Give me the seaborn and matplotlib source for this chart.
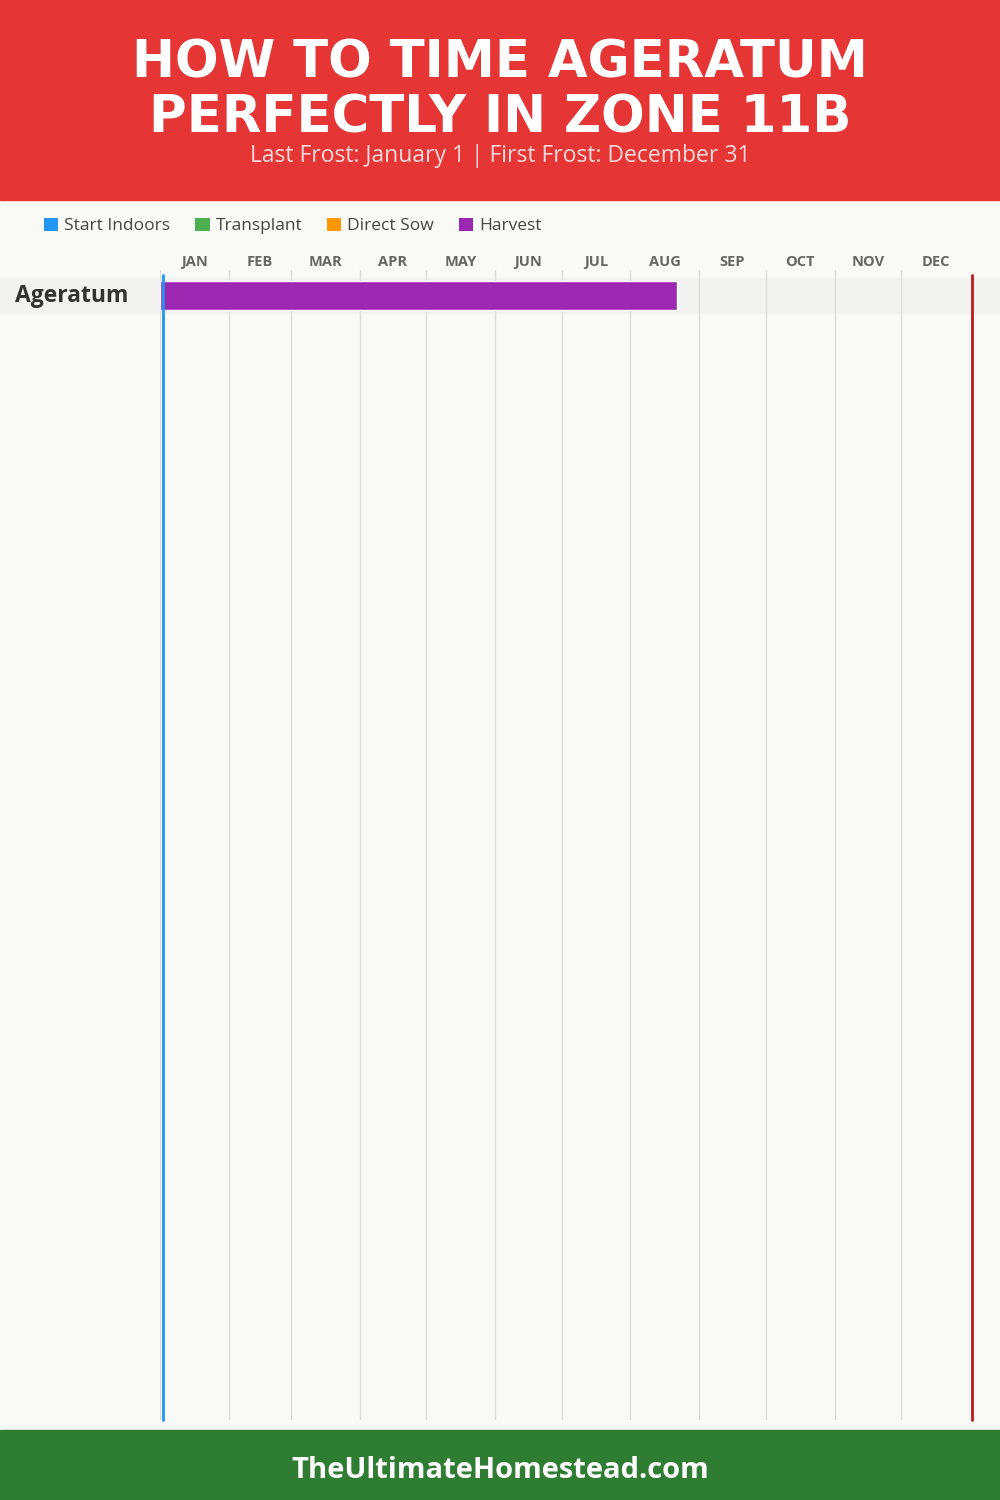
import matplotlib
matplotlib.use("Agg")
import matplotlib.pyplot as plt
import seaborn as sns
from matplotlib.patches import Patch, Rectangle

# data
crops = ["Ageratum"]
harvest_start = [1]      # day of year
harvest_end = [233]      # ~Aug 21
last_frost = 1           # January 1
first_frost = 365        # December 31
months = ["JAN", "FEB", "MAR", "APR", "MAY", "JUN",
          "JUL", "AUG", "SEP", "OCT", "NOV", "DEC"]
month_days = [31, 28, 31, 30, 31, 30, 31, 31, 30, 31, 30, 31]
legend_labels = ["Start Indoors", "Transplant", "Direct Sow", "Harvest"]
legend_colors = ["#2196F3", "#4CAF50", "#FF9800", "#9C27B0"]

sns.set_theme(style="white")
plt.rcParams["font.family"] = ["Open Sans", "DejaVu Sans"]

W, H = 1000, 1500
fig = plt.figure(figsize=(10, 15), dpi=100)
fig.patch.set_facecolor("#F9F9F7")

# header / footer
fig.add_artist(Rectangle((0, 1 - 200 / H), 1, 200 / H, transform=fig.transFigure,
                         color="#E53535", zorder=0))
fig.add_artist(Rectangle((0, 0), 1, 70 / H, transform=fig.transFigure,
                         color="#2E7D32", zorder=0))
fig.text(0.5, 1 - 91 / H, "HOW TO TIME AGERATUM\nPERFECTLY IN ZONE 11B",
         ha="center", va="center", color="white", fontsize=37,
         fontweight="bold", family=["DejaVu Sans"], linespacing=1.15)
fig.text(0.5, 1 - 156 / H, "Last Frost: January 1 | First Frost: December 31",
         ha="center", va="center", color="#F6DADA", fontsize=16.5)
fig.text(0.5, 1 - 1470 / H, "TheUltimateHomestead.com", ha="center", va="center",
         color="white", fontsize=21, fontweight="bold")

# row band spanning the full width
row_top, row_h = 278, 35
fig.add_artist(Rectangle((0, 1 - (row_top + row_h) / H), 1, row_h / H,
                         transform=fig.transFigure, color="#F2F2F0", zorder=0.5))

left, right, top, bottom = 160, 970, 270, 1420
ax = fig.add_axes([left / W, 1 - bottom / H, (right - left) / W, (bottom - top) / H])
ax.set_facecolor("none")
ax.set_zorder(1)

# month boundaries / centers
bounds = [0]
for d in month_days:
    bounds.append(bounds[-1] + d)
centers = [(bounds[i] + bounds[i + 1]) / 2 for i in range(12)]

ax.set_xlim(0, 365)
unit = 35.0
ax.set_ylim((bottom - top) / unit - 25.5 / unit, -25.5 / unit)

for b in bounds:
    ax.axvline(b, color="#DDDDDD", lw=1, zorder=1)

for i, crop in enumerate(crops):
    ax.barh(i, harvest_end[i] - harvest_start[i] + 1, left=harvest_start[i] - 1,
            height=29 / unit, color=legend_colors[3], zorder=2)
    fig.text(15 / W, 1 - (row_top + row_h / 2) / H, crop, ha="left", va="center",
             fontsize=16.5, fontweight="bold", color="#333333")

frost_top = 1 - 5 / (bottom - top)
ax.axvline(last_frost + 0.5, ymax=frost_top, color="#2196F3", lw=2, zorder=3,
           clip_on=False)
ax.axvline(first_frost + 1, ymax=frost_top, color="#B71C1C", lw=2, zorder=3,
           clip_on=False)

ax.set_xticks(centers)
ax.set_xticklabels(months, fontsize=10.5, fontweight="bold", color="#666666")
ax.xaxis.tick_top()
ax.tick_params(axis="x", length=0, pad=1)
ax.set_yticks([])
sns.despine(ax=ax, left=True, bottom=True, top=True, right=True)

handles = [Patch(facecolor=c, edgecolor="none") for c in legend_colors]
fig.legend(handles, legend_labels, loc="center left",
           bbox_to_anchor=(0.028, 1 - 226 / H), ncol=4, frameon=False,
           handlelength=0.85, handleheight=0.85, handletextpad=0.35,
           columnspacing=1.4, fontsize=12.5, labelcolor="#444444")

fig.savefig("out.png", dpi=100, facecolor=fig.get_facecolor())
